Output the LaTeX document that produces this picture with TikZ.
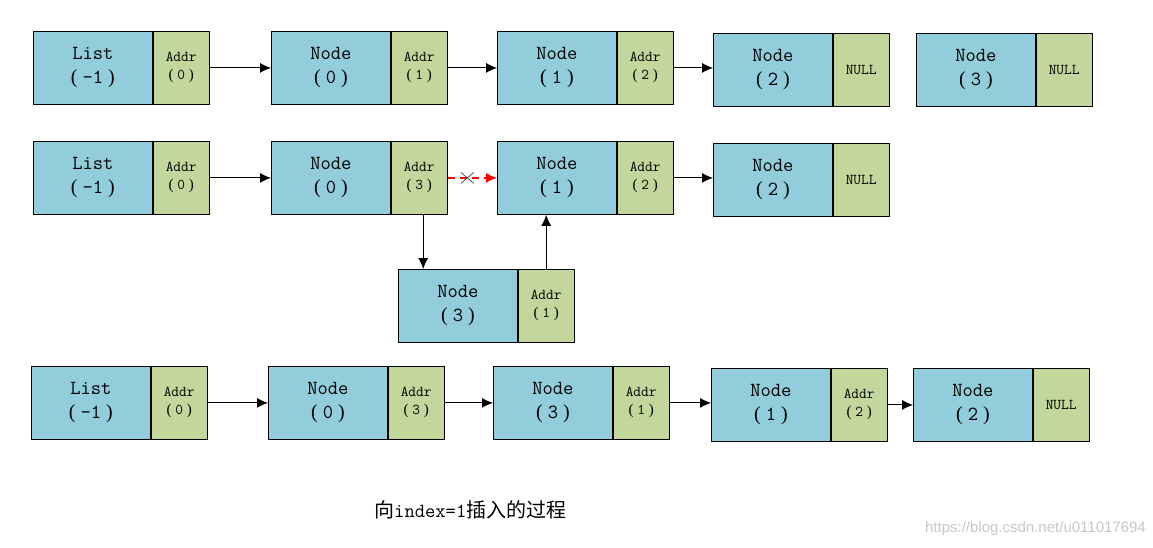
\documentclass[tikz,border=0pt]{standalone}
\usepackage{fontspec}
\newfontfamily\cjk{Noto Sans CJK SC}
\newfontfamily\parfont{Liberation Serif}
\usetikzlibrary{arrows.meta}
\definecolor{valblue}{HTML}{92CDDC}
\definecolor{ptrgreen}{HTML}{C3D69B}
\newcommand\lp{\kern0.3em{\parfont(}\kern0.25em}
\newcommand\rp{\kern0.25em{\parfont)}\kern0.3em}
\tikzset{
  valbox/.style={draw=black, line width=0.8pt, fill=valblue, anchor=north west, minimum width=119pt, minimum height=73pt, inner sep=0pt, align=center, font=\ttfamily\fontsize{20}{24}\selectfont},
  ptrbox/.style={draw=black, line width=0.8pt, fill=ptrgreen, anchor=north west, minimum width=56pt, minimum height=73pt, inner sep=0pt, align=center, font=\ttfamily\fontsize{15}{18}\selectfont},
  link/.style={draw=black, line width=0.9pt, -{Latex[length=11pt,width=10pt]}},
  cutlink/.style={draw=red, color=red, line width=1.3pt, dash pattern=on 7pt off 5pt, -{Latex[length=11pt,width=10pt]}},
}
\begin{document}
\begin{tikzpicture}[x=1pt,y=-1pt]
\useasboundingbox (0,0) rectangle (1153,548);
% Row 1
\node[valbox] (a0) at (33,31) {List\\\lp-1\rp};
\node[ptrbox] (a0p) at (a0.north east) {Addr\\\lp0\rp};
\node[valbox] (a1) at (271,31) {Node\\\lp0\rp};
\node[ptrbox] (a1p) at (a1.north east) {Addr\\\lp1\rp};
\node[valbox] (a2) at (497,31) {Node\\\lp1\rp};
\node[ptrbox] (a2p) at (a2.north east) {Addr\\\lp2\rp};
\node[valbox] (a3) at (713,33) {Node\\\lp2\rp};
\node[ptrbox] (a3p) at (a3.north east) {NULL};
\node[valbox] (a4) at (916,33) {Node\\\lp3\rp};
\node[ptrbox] (a4p) at (a4.north east) {NULL};
\draw[link] (a0p.east) -- (a1.west);
\draw[link] (a1p.east) -- (a2.west);
\draw[link] (a2p.east) -- (a3.west |- a2p.east);
% Row 2
\node[valbox] (b0) at (33,141) {List\\\lp-1\rp};
\node[ptrbox] (b0p) at (b0.north east) {Addr\\\lp0\rp};
\node[valbox] (b1) at (271,141) {Node\\\lp0\rp};
\node[ptrbox] (b1p) at (b1.north east) {Addr\\\lp3\rp};
\node[valbox] (b2) at (497,141) {Node\\\lp1\rp};
\node[ptrbox] (b2p) at (b2.north east) {Addr\\\lp2\rp};
\node[valbox] (b3) at (713,143) {Node\\\lp2\rp};
\node[ptrbox] (b3p) at (b3.north east) {NULL};
\node[valbox] (c3) at (398,269) {Node\\\lp3\rp};
\node[ptrbox] (c3p) at (c3.north east) {Addr\\\lp1\rp};
\draw[link] (b0p.east) -- (b1.west);
\draw[cutlink] (b1p.east) -- coordinate[pos=0.4] (cut) (b2.west);
\draw[black!75, line width=0.7pt] ([shift={(-6.5pt,-5.5pt)}]cut) -- ([shift={(6.5pt,5.5pt)}]cut)
  ([shift={(-6.5pt,5.5pt)}]cut) -- ([shift={(6.5pt,-5.5pt)}]cut);
\draw[link] (b2p.east) -- (b3.west |- b2p.east);
\draw[link] ([xshift=4pt]b1p.south) -- ([xshift=4pt]b1p.south |- c3.north);
\draw[link] (c3p.north) -- (c3p.north |- b2.south);
% Row 3
\node[valbox] (d0) at (31,366) {List\\\lp-1\rp};
\node[ptrbox] (d0p) at (d0.north east) {Addr\\\lp0\rp};
\node[valbox] (d1) at (268,366) {Node\\\lp0\rp};
\node[ptrbox] (d1p) at (d1.north east) {Addr\\\lp3\rp};
\node[valbox] (d2) at (493,366) {Node\\\lp3\rp};
\node[ptrbox] (d2p) at (d2.north east) {Addr\\\lp1\rp};
\node[valbox] (d3) at (711,368) {Node\\\lp1\rp};
\node[ptrbox] (d3p) at (d3.north east) {Addr\\\lp2\rp};
\node[valbox] (d4) at (913,368) {Node\\\lp2\rp};
\node[ptrbox] (d4p) at (d4.north east) {NULL};
\draw[link] (d0p.east) -- (d1.west);
\draw[link] (d1p.east) -- (d2.west);
\draw[link] (d2p.east) -- (d3.west |- d2p.east);
\draw[link] (d3p.east) -- (d4.west);
% Caption
\node[anchor=west, inner sep=0pt, font=\ttfamily\fontsize{20}{22}\selectfont] (cap) at (374,510) {{\cjk 向}index=1{\cjk 插入的过程}};
\node[anchor=east, inner sep=0pt, text=black!22, font=\fontspec{Liberation Sans}\fontsize{15}{18}\selectfont] (wm) at (1146,529) {https://blog.csdn.net/u011017694};
\end{tikzpicture}
\end{document}
